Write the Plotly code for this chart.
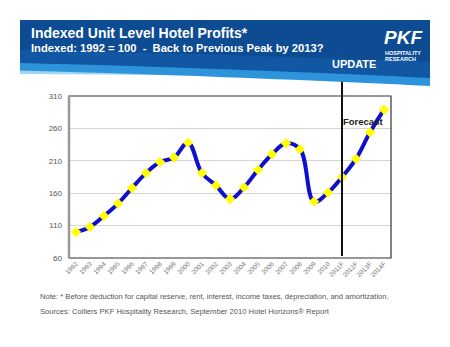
import plotly.graph_objects as go

# Index of unit-level hotel profits (1992 = 100), actuals plus forecast years
years = ["1992", "1993", "1994", "1995", "1996", "1997", "1998", "1999", "2000",
         "2001", "2002", "2003", "2004", "2005", "2006", "2007", "2008", "2009",
         "2010", "2011F", "2012F", "2013F", "2014F"]
index_values = [100, 108, 125, 144, 168, 191, 208, 215, 238,
                191, 172, 151, 169, 196, 220, 237, 228, 147,
                161, 185, 213, 254, 289]
y_ticks = [60, 110, 160, 210, 260, 310]

W, H = 450, 347
L, R, T, B = 69, 391, 96, 258  # plot box in pixels


def px(x):
    return (x - L) / (R - L)


def py(y):
    return (B - y) / (B - T)


fig = go.Figure()
fig.add_trace(go.Scatter(
    x=years, y=index_values, mode="lines+markers",
    line=dict(color="#1010cc", width=4, shape="spline", smoothing=1.1),
    marker=dict(symbol="diamond", size=8, color="#ffff00", line=dict(width=0)),
    hoverinfo="x+y", showlegend=False,
))

font = "Arial, Liberation Sans, sans-serif"

shapes = []
# forecast divider
shapes.append(dict(type="line", xref="x", yref="paper", x0="2011F", x1="2011F",
                   y0=py(256), y1=py(81), line=dict(color="#111111", width=2), layer="above"))
# chart border
shapes.append(dict(type="rect", xref="paper", yref="paper", x0=0, x1=1, y0=0, y1=1,
                   line=dict(color="#333333", width=1.2), layer="above"))
shapes.append(dict(type="line", xref="paper", yref="paper", x0=0, x1=0, y0=0, y1=1,
                   line=dict(color="#999999", width=2.5), layer="above"))


def path(points, close=True):
    s = "M " + " L ".join(f"{px(x):.4f},{py(y):.4f}" for x, y in points)
    return s + (" Z" if close else "")


def wave(x0, x1, y_left, y_mid, y_right, n=24):
    pts = []
    for i in range(n + 1):
        t = i / n
        x = x0 + (x1 - x0) * t
        y = (1 - t) ** 2 * y_left + 2 * (1 - t) * t * y_mid + t ** 2 * y_right
        pts.append((x, y))
    return pts


# header banner: pale highlight, bright wave band, then dark body on top
pale = wave(20, 430, 74, 75, 80)
shapes.append(dict(type="path", xref="paper", yref="paper",
                   path=path([(20, 58), (430, 62)] + pale[::-1]),
                   fillcolor="#9dd6f2", line=dict(width=0), layer="above"))
mid = wave(20, 430, 70.5, 76, 86)
shapes.append(dict(type="path", xref="paper", yref="paper",
                   path=path([(20, 56), (430, 60)] + mid[::-1]),
                   fillcolor="#2d93da", line=dict(width=0), layer="above"))
dark = wave(20, 430, 63, 68, 78)
shapes.append(dict(type="path", xref="paper", yref="paper",
                   path=path([(20, 20), (430, 20)] + dark[::-1]),
                   fillcolor="#1257a3", line=dict(width=0), layer="above"))
top = wave(20, 430, 50, 54, 62)
shapes.append(dict(type="path", xref="paper", yref="paper",
                   path=path([(20, 20), (430, 20)] + top[::-1]),
                   fillcolor="#0d4b93", line=dict(width=0), layer="above"))

annotations = [
    dict(text="<b>Indexed Unit Level Hotel Profits*</b>", x=px(29), y=py(33),
         xanchor="left", yanchor="middle", font=dict(size=14, color="white", family=font)),
    dict(text="<b>Indexed: 1992 = 100  -  Back to Previous Peak by 2013?</b>", x=px(29), y=py(47.5),
         xanchor="left", yanchor="middle", font=dict(size=11.2, color="white", family=font)),
    dict(text="<b>UPDATE</b>", x=px(354), y=py(64),
         xanchor="center", yanchor="middle", font=dict(size=11, color="white", family=font)),
    dict(text="<b><i>PKF</i></b>", x=px(403), y=py(37.5),
         xanchor="center", yanchor="middle", font=dict(size=19, color="white", family=font)),
    dict(text="<b>HOSPITALITY</b>", x=px(383), y=py(53),
         xanchor="left", yanchor="middle", font=dict(size=5.5, color="white", family=font)),
    dict(text="<b>RESEARCH</b>", x=px(383), y=py(59),
         xanchor="left", yanchor="middle", font=dict(size=5.5, color="white", family=font)),
    dict(text="<b>Forecast</b>", x=px(363), y=py(121),
         xanchor="center", yanchor="middle", font=dict(size=9.5, color="#222222", family=font)),
    dict(text="Note: * Before deduction for capital reserve, rent, interest, income taxes, depreciation, and amortization.",
         x=px(38), y=py(296), xanchor="left", yanchor="middle",
         font=dict(size=7.6, color="#555555", family=font)),
    dict(text="Sources: Colliers PKF Hospitality Research, September 2010 Hotel Horizons\u00ae Report",
         x=px(38), y=py(311), xanchor="left", yanchor="middle",
         font=dict(size=7.6, color="#555555", family=font)),
]
for a in annotations:
    a.update(xref="paper", yref="paper", showarrow=False)

fig.update_layout(
    width=W, height=H,
    margin=dict(l=L, r=W - R, t=T, b=H - B, pad=0),
    paper_bgcolor="white", plot_bgcolor="white",
    shapes=shapes, annotations=annotations,
    xaxis=dict(type="category", range=[-0.5, len(years) - 0.5], tickangle=-45,
               tickfont=dict(size=6.5, color="#777777", family=font),
               showgrid=False, zeroline=False, showline=False, ticks=""),
    yaxis=dict(range=[60, 310], tickvals=y_ticks, ticks="",
               tickfont=dict(size=8, color="#555555", family=font),
               showgrid=True, gridcolor="#d4d4d4", gridwidth=1.2,
               zeroline=False, showline=False, ticklabelstandoff=6),
    font=dict(family=font),
)

fig.write_html("out.html")
